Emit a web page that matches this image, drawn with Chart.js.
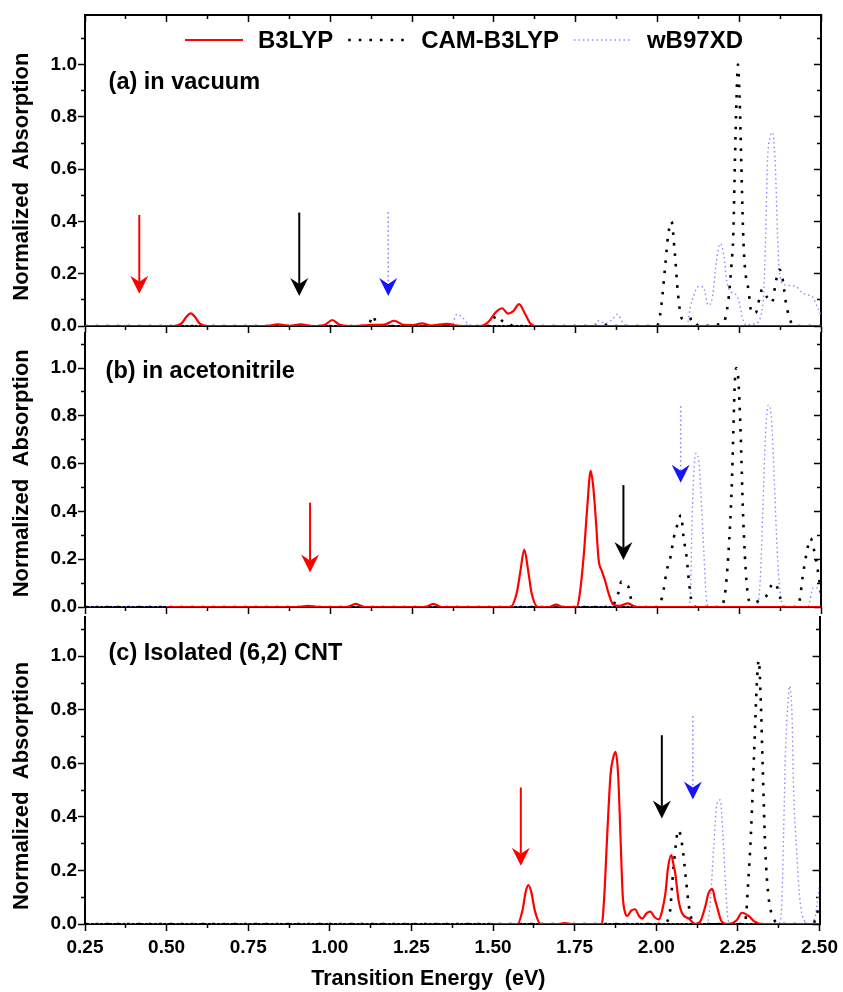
<!DOCTYPE html>
<html>
<head>
<meta charset="utf-8">
<script src="https://cdn.jsdelivr.net/npm/chart.js@4.4.1/dist/chart.umd.min.js"></script>
<style>
  html, body { margin: 0; padding: 0; background: #fff; }
  #wrap { position: relative; width: 843px; height: 992px; }
  #wrap canvas { position: absolute; left: 0; }
</style>
</head>
<body>
<div id="wrap">
  <canvas id="panelA" width="843" height="340" style="top:0px"></canvas>
  <canvas id="panelB" width="843" height="301" style="top:321px"></canvas>
  <canvas id="panelC" width="843" height="387" style="top:605px"></canvas>
</div>
<script>
// ---- tick labels ----
const xTickLabels = ['0.25', '0.50', '0.75', '1.00', '1.25', '1.50', '1.75', '2.00', '2.25', '2.50'];
const yTickLabels = ['0.0', '0.2', '0.4', '0.6', '0.8', '1.0'];
const seriesNames = ['B3LYP', 'CAM-B3LYP', 'wB97XD'];

// ---- (a) in vacuum : [energy eV, normalized absorption] ----
const vacB3lyp = [[0.25,0],[0.52,0],[0.545,0.01],[0.56,0.035],[0.573,0.048],[0.586,0.035],[0.60,0.01],[0.625,0],[0.80,0],[0.84,0.006],[0.875,0.001],[0.91,0.006],[0.945,0],[0.985,0.006],[1.006,0.023],[1.027,0.006],[1.06,0],[1.13,0.004],[1.165,0.005],[1.195,0.02],[1.225,0.004],[1.25,0.003],[1.28,0.01],[1.31,0.002],[1.357,0.008],[1.39,0.001],[1.46,0],[1.485,0.018],[1.505,0.052],[1.525,0.068],[1.543,0.047],[1.56,0.058],[1.577,0.084],[1.594,0.05],[1.61,0.012],[1.625,0],[2.5,0]];
const vacCam = [[0.25,0],[1.10,0],[1.12,0.012],[1.13,0.04],[1.14,0.012],[1.16,0],[1.48,0],[1.51,0.04],[1.525,0.02],[1.54,0.015],[1.56,0],[1.81,0],[1.83,0.01],[1.85,0],[1.995,0],[2.003,0.01],[2.013,0.09],[2.023,0.22],[2.033,0.35],[2.043,0.40],[2.053,0.28],[2.063,0.12],[2.074,0.03],[2.09,0.02],[2.108,0.03],[2.126,0],[2.20,0.01],[2.216,0.09],[2.226,0.23],[2.232,0.355],[2.237,0.64],[2.242,0.88],[2.246,1.0],[2.251,0.88],[2.256,0.64],[2.262,0.355],[2.267,0.23],[2.278,0.14],[2.288,0.05],[2.30,0.05],[2.311,0.10],[2.32,0.14],[2.335,0.11],[2.35,0.09],[2.362,0.17],[2.372,0.215],[2.38,0.2],[2.386,0.15],[2.394,0.08],[2.41,0.01],[2.42,0],[2.5,0]];
const vacWb97 = [[0.25,0],[1.37,0],[1.387,0.045],[1.406,0.03],[1.42,0.01],[1.44,0],[1.80,0],[1.82,0.02],[1.84,0.01],[1.862,0.025],[1.877,0.045],[1.895,0.01],[1.91,0],[2.09,0],[2.10,0.07],[2.112,0.12],[2.124,0.15],[2.14,0.15],[2.155,0.08],[2.168,0.11],[2.18,0.245],[2.192,0.315],[2.203,0.27],[2.212,0.17],[2.225,0.13],[2.24,0.12],[2.25,0.09],[2.26,0.03],[2.27,0.005],[2.30,0.01],[2.318,0.05],[2.325,0.13],[2.331,0.35],[2.336,0.62],[2.344,0.72],[2.352,0.74],[2.359,0.65],[2.364,0.48],[2.367,0.35],[2.372,0.22],[2.385,0.16],[2.405,0.155],[2.425,0.15],[2.44,0.13],[2.456,0.12],[2.475,0.11],[2.486,0.08],[2.5,0.04]];

// ---- (b) in acetonitrile ----
const acnB3lyp = [[0.50,0],[0.90,0],[0.933,0.005],[0.965,0],[1.05,0],[1.078,0.013],[1.105,0],[1.29,0],[1.315,0.013],[1.34,0],[1.55,0],[1.57,0.06],[1.58,0.14],[1.593,0.24],[1.605,0.15],[1.615,0.06],[1.635,0],[1.67,0],[1.69,0.01],[1.71,0],[1.753,0],[1.762,0.05],[1.775,0.22],[1.785,0.41],[1.796,0.57],[1.804,0.5],[1.812,0.36],[1.82,0.2],[1.83,0.15],[1.84,0.11],[1.85,0.06],[1.865,0.01],[1.885,0.005],[1.91,0.015],[1.935,0],[2.5,0]];
const acnCam = [[0.25,0],[1.855,0],[1.87,0.02],[1.88,0.057],[1.89,0.106],[1.90,0.09],[1.911,0.085],[1.92,0.03],[1.935,0],[2.0,0],[2.01,0.02],[2.02,0.08],[2.028,0.15],[2.04,0.21],[2.05,0.29],[2.058,0.33],[2.065,0.365],[2.072,0.385],[2.08,0.29],[2.09,0.2],[2.096,0.11],[2.105,0.02],[2.12,0],[2.19,0],[2.206,0.05],[2.217,0.225],[2.227,0.5],[2.237,0.95],[2.241,1.0],[2.247,0.96],[2.254,0.74],[2.262,0.38],[2.272,0.11],[2.283,0.02],[2.30,0.02],[2.313,0.03],[2.339,0.057],[2.352,0.1],[2.364,0.09],[2.375,0.04],[2.385,0],[2.425,0],[2.435,0.03],[2.444,0.127],[2.456,0.225],[2.468,0.287],[2.48,0.23],[2.49,0.155],[2.5,0.057]];
const acnWb97 = [[0.25,0],[2.09,0],[2.10,0.03],[2.105,0.31],[2.11,0.53],[2.118,0.643],[2.128,0.587],[2.135,0.42],[2.142,0.225],[2.15,0.03],[2.16,0],[2.30,0],[2.313,0.085],[2.323,0.434],[2.33,0.713],[2.339,0.845],[2.346,0.824],[2.354,0.643],[2.362,0.364],[2.37,0.141],[2.38,0.02],[2.39,0],[2.46,0],[2.476,0.08],[2.49,0.08],[2.5,0.05]];

// ---- (c) isolated (6,2) CNT ----
const cntB3lyp = [[1.50,0],[1.575,0],[1.59,0.05],[1.60,0.12],[1.608,0.145],[1.617,0.12],[1.628,0.05],[1.646,0],[1.70,0],[1.72,0.003],[1.74,0],[1.833,0],[1.840,0.09],[1.850,0.34],[1.860,0.56],[1.868,0.62],[1.875,0.643],[1.883,0.56],[1.890,0.34],[1.897,0.11],[1.905,0.04],[1.911,0.03],[1.923,0.05],[1.935,0.055],[1.947,0.03],[1.957,0.02],[1.97,0.04],[1.982,0.046],[1.995,0.025],[2.008,0.017],[2.018,0.05],[2.028,0.115],[2.036,0.21],[2.046,0.257],[2.053,0.22],[2.058,0.19],[2.068,0.09],[2.079,0.04],[2.10,0.02],[2.12,0],[2.135,0.01],[2.15,0.065],[2.16,0.115],[2.172,0.13],[2.18,0.09],[2.186,0.065],[2.20,0.01],[2.22,0],[2.247,0.015],[2.262,0.042],[2.283,0.03],[2.30,0.01],[2.33,0],[2.5,0]];
const cntCam = [[0.25,0],[2.02,0],[2.04,0.03],[2.053,0.214],[2.068,0.351],[2.08,0.289],[2.09,0.177],[2.10,0.065],[2.11,0.01],[2.12,0],[2.265,0],[2.275,0.03],[2.28,0.127],[2.29,0.338],[2.30,0.649],[2.308,0.898],[2.314,0.985],[2.32,0.836],[2.326,0.587],[2.334,0.276],[2.344,0.10],[2.357,0.027],[2.38,0],[2.48,0],[2.49,0.03],[2.5,0.07]];
const cntWb97 = [[0.25,0],[2.155,0],[2.166,0.09],[2.176,0.289],[2.186,0.45],[2.196,0.463],[2.204,0.338],[2.212,0.152],[2.22,0.015],[2.23,0],[2.375,0],[2.385,0.09],[2.39,0.338],[2.396,0.649],[2.404,0.836],[2.408,0.888],[2.416,0.774],[2.42,0.525],[2.43,0.276],[2.44,0.09],[2.455,0.01],[2.47,0],[2.485,0.02],[2.49,0.05],[2.5,0.15]];

// ---- arrows: [energy, shaft top, tip, colour] ----
const vacArrows = [[0.416, 0.425, 0.123, 'red'], [0.905, 0.434, 0.115, 'black'], [1.177, 0.435, 0.115, 'blue']];
const acnArrows = [[0.938, 0.437, 0.144, 'red'], [1.896, 0.51, 0.197, 'black'], [2.071, 0.84, 0.52, 'blue']];
const cntArrows = [[1.585, 0.51, 0.218, 'red'], [2.017, 0.705, 0.394, 'black'], [2.112, 0.776, 0.465, 'blue']];

const FONT = '"Liberation Sans", Arial, sans-serif';
Chart.defaults.font.family = FONT;
Chart.defaults.font.weight = 'bold';
Chart.defaults.font.size = 19;
Chart.defaults.color = '#000';

const lineStyles = [
  { borderColor: '#ff0000', borderWidth: 2.2, borderDash: [] },
  { borderColor: '#000000', borderWidth: 2.6, borderDash: [2.6, 8] },
  { borderColor: '#8a8aff', borderWidth: 1.4, borderDash: [1.5, 3] }
];
const arrowStyles = {
  red: { shaft: '#ff0000', head: '#ff0000', dash: [], width: 2 },
  black: { shaft: '#000000', head: '#000000', dash: [], width: 2 },
  blue: { shaft: '#7c7cff', head: '#1414ff', dash: [1.5, 3], width: 1.5 }
};

const isMinorX = v => Math.round(v / 0.125) % 2 === 1;
const isMinorY = v => Math.round(v * 10) % 2 === 1;
// minor ticks are drawn shorter by dashing the tick line
const tickDash = (minor, dash) => ctx => (ctx.tick && minor(ctx.tick.value)) ? dash : [];

function axisX(position, height, withLabels) {
  const inward = position === 'top';
  return {
    type: 'linear', position, min: 0.25, max: 2.5, bounds: 'data',
    ticks: {
      stepSize: 0.125, autoSkip: false, includeBounds: false, maxRotation: 0, minRotation: 0,
      display: withLabels, padding: 5,
      callback: v => { const s = v.toFixed(2); return xTickLabels.includes(s) ? s : ''; }
    },
    grid: {
      drawOnChartArea: false, color: '#000', tickWidth: 1.5, tickLength: inward ? -7 : 7,
      tickBorderDash: tickDash(isMinorX, inward ? [0, 3, 5, 20] : [3, 20])
    },
    border: { display: true, color: '#000', width: 2 },
    // trailing blanks nudge the centred title a little to the left, as in the original
    title: withLabels
      ? { display: true, text: 'Transition Energy  (eV)' + ' '.repeat(8), font: { size: 21.5, weight: 'bold' }, padding: { top: 0, bottom: 0 } }
      : { display: false },
    afterFit: s => { s.height = height; }
  };
}

function axisY(position, max, titleShift) {
  const left = position === 'left';
  return {
    type: 'linear', position, min: 0, max, bounds: 'data',
    ticks: {
      stepSize: 0.1, autoSkip: false, includeBounds: false, display: left, padding: 1,
      callback: v => { const s = v.toFixed(1); return yTickLabels.includes(s) ? s : ''; }
    },
    grid: {
      drawOnChartArea: false, color: '#000', tickWidth: 1.5, tickLength: left ? 7 : -7,
      tickBorderDash: tickDash(isMinorY, left ? [0, 3, 3, 20] : [5, 20])
    },
    border: { display: true, color: '#000', width: 2 },
    title: left
      ? { display: true, text: 'Normalized  Absorption' + ' '.repeat(titleShift || 0), font: { size: 22, weight: 'bold' }, padding: { top: 9, bottom: 0 } }
      : { display: false },
    afterFit: s => { s.width = left ? 85 : 0; }
  };
}

function drawArrow(ctx, chart, a) {
  const st = arrowStyles[a[3]];
  const x = chart.scales.x.getPixelForValue(a[0]);
  const yTop = chart.scales.y.getPixelForValue(a[1]);
  const yTip = chart.scales.y.getPixelForValue(a[2]);
  ctx.save();
  ctx.strokeStyle = st.shaft;
  ctx.lineWidth = st.width;
  ctx.setLineDash(st.dash);
  ctx.beginPath();
  ctx.moveTo(x, yTop);
  ctx.lineTo(x, yTip - 12);
  ctx.stroke();
  ctx.setLineDash([]);
  ctx.fillStyle = st.head;
  ctx.beginPath();
  ctx.moveTo(x, yTip);
  ctx.lineTo(x - 9, yTip - 18);
  ctx.lineTo(x, yTip - 12);
  ctx.lineTo(x + 9, yTip - 18);
  ctx.closePath();
  ctx.fill();
  ctx.restore();
}

function drawLegend(chart) {
  const ctx = chart.ctx, area = chart.chartArea;
  let x = area.left + 100;
  const y = area.top + 25;
  ctx.save();
  ctx.font = 'bold 24px ' + FONT;
  ctx.textBaseline = 'middle';
  ctx.fillStyle = '#000';
  chart.data.datasets.forEach(ds => {
    ctx.strokeStyle = ds.borderColor;
    ctx.lineWidth = ds.borderWidth;
    ctx.setLineDash(ds.borderDash);
    ctx.beginPath();
    ctx.moveTo(x, y);
    ctx.lineTo(x + 58, y);
    ctx.stroke();
    x += 58 + 15;
    ctx.fillText(ds.label, x, y + 1);
    x += ctx.measureText(ds.label).width + 15;
  });
  ctx.restore();
}

// panel text, arrows and (top panel only) the legend
function decor(panel) {
  return {
    id: 'decor',
    afterDatasetsDraw(chart) {
      const ctx = chart.ctx;
      panel.arrows.forEach(a => drawArrow(ctx, chart, a));
      ctx.save();
      ctx.font = 'bold 23.5px ' + FONT;
      ctx.textBaseline = 'middle';
      ctx.fillStyle = '#000';
      ctx.fillText(panel.label, chart.scales.x.getPixelForValue(panel.labelAt[0]), chart.scales.y.getPixelForValue(panel.labelAt[1]));
      ctx.restore();
      if (panel.legend) drawLegend(chart);
    }
  };
}

function makePanel(canvasId, panel) {
  const scales = {
    x: axisX('bottom', panel.bottomHeight, panel.xLabels),
    y: axisY('left', panel.yMax, panel.titleShift),
    y2: axisY('right', panel.yMax)
  };
  if (panel.topAxis) scales.x2 = axisX('top', 0, false);
  const datasets = panel.series.map((pts, i) => Object.assign({
    label: seriesNames[i],
    data: pts.map(p => ({ x: p[0], y: p[1] })),
    xAxisID: 'x', yAxisID: 'y',
    pointRadius: 0, fill: false,
    cubicInterpolationMode: 'monotone'
  }, lineStyles[i]));
  return new Chart(document.getElementById(canvasId), {
    type: 'line',
    data: { datasets },
    options: {
      responsive: false,
      animation: false,
      events: [],
      layout: { padding: { top: panel.padTop, right: 22, bottom: 0, left: 0 } },
      plugins: { legend: { display: false }, tooltip: { enabled: false } },
      scales
    },
    plugins: [decor(panel)]
  });
}

makePanel('panelA', {
  series: [vacB3lyp, vacCam, vacWb97], arrows: vacArrows,
  label: '(a) in vacuum', labelAt: [0.322, 0.933], legend: true,
  yMax: 1.19, padTop: 15, bottomHeight: 14, topAxis: true, xLabels: false, titleShift: 2
});
makePanel('panelB', {
  series: [acnB3lyp, acnCam, acnWb97], arrows: acnArrows,
  label: '(b) in acetonitrile', labelAt: [0.313, 0.985], legend: false,
  yMax: 1.145, padTop: 12, bottomHeight: 15, topAxis: false, xLabels: false, titleShift: 1
});
makePanel('panelC', {
  series: [cntB3lyp, cntCam, cntWb97], arrows: cntArrows,
  label: '(c) Isolated (6,2) CNT', labelAt: [0.322, 1.010], legend: false,
  yMax: 1.145, padTop: 12, bottomHeight: 68, topAxis: false, xLabels: true, titleShift: 5
});
</script>
</body>
</html>
